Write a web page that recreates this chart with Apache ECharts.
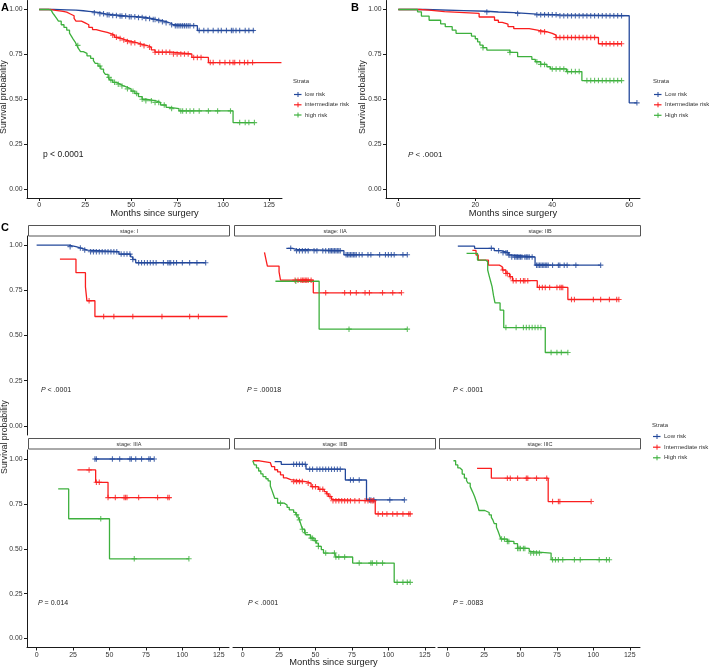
<!DOCTYPE html>
<html><head><meta charset="utf-8">
<script src="https://cdn.jsdelivr.net/npm/echarts@6/dist/echarts.min.js"></script>
<style>html,body{margin:0;padding:0;background:#fff}#c{width:709px;height:668px}</style>
</head><body><div id="c"></div>
<script>
// ---------- colours & tick labels ----------
const COL_LOW = '#23489B', COL_MID = '#FA1E1E', COL_HIGH = '#3DB03D';
const ticks125 = [0, 25, 50, 75, 100, 125];
const ticks60 = [0, 20, 40, 60];
const yTicks = [0, 0.25, 0.5, 0.75, 1];
const namesA = ['low risk', 'intermediate risk', 'high risk'];
const namesB = ['Low risk', 'Intermediate risk', 'High risk'];
const stageNames = ['stage: I', 'stage: IIA', 'stage: IIB', 'stage: IIIA', 'stage: IIIB', 'stage: IIIC'];
const pA = 'p < 0.0001';
const pB = '.0001';
const pStage = ['< .0001', '= .00018', '< .0001', '= 0.014', '< .0001', '= .0083'];

// ---------- Panel A ----------
const aLowSteps = [[0,1],[8,0.998],[15,0.996],[20,0.993],[24,0.99],[27,0.987],[30,0.982],[33,0.976],[36,0.971],[40,0.967],[44,0.963],[48,0.96],[53,0.956],[58,0.95],[61,0.944],[64,0.938],[67,0.932],[69,0.926],[71,0.915],[73,0.91],[86,0.883]];
const aLowEnd = 117;
const aLowCens = [30,33,35,37,38,40,42,44,45,47,49,50,52,54,56,58,60,62,63,65,67,69,72,74,75,76,77,78,79,80,81,82,84,87,89.5,91.8,94.6,97.3,99,101.8,104.5,105.4,107,109,112,114,116.4];
const aMidSteps = [[0,1],[6,0.995],[9,0.99],[13,0.985],[15,0.975],[17,0.965],[19,0.95],[20,0.935],[23,0.925],[25,0.915],[27,0.9],[29,0.888],[31,0.88],[34,0.872],[37,0.865],[39,0.857],[41,0.845],[43,0.838],[45,0.83],[47,0.822],[50,0.815],[53,0.806],[56,0.798],[59,0.79],[61,0.775],[63,0.762],[72,0.752],[83,0.733],[92,0.704]];
const aMidEnd = 131.7;
const aMidCens = [40,42,44,46,48,50,52,55,57,60,63,65,67,69,71,73,75,77,79,81,84,86,88,93,94.6,98.2,101,103.6,105.4,106.3,109,111.6,113.4,116];
const aHighSteps = [[0,1],[5,0.996],[6.5,0.99],[7.5,0.978],[8.5,0.965],[9.5,0.95],[10.5,0.935],[12,0.915],[13.5,0.9],[15,0.885],[16.5,0.868],[17.5,0.852],[18.5,0.835],[19.5,0.82],[20.5,0.8],[21.5,0.78],[22.5,0.765],[24,0.756],[26,0.742],[28,0.728],[29.5,0.715],[30.5,0.7],[32,0.685],[33.5,0.668],[35,0.652],[36,0.638],[37.5,0.622],[38.5,0.607],[40,0.594],[42,0.584],[44,0.574],[46,0.566],[48,0.558],[50,0.545],[52,0.532],[54,0.515],[56,0.5],[58,0.492],[63,0.482],[66,0.468],[69,0.455],[71,0.448],[76,0.435],[105.4,0.37]];
const aHighEnd = 117;
const aHighCens = [21,33,38,39,41,43,45,48,51,53,56,58,61,63,65,68,72,77,78,80,82,84,87,92,97,104,109,112,114,117];

// ---------- Panel B ----------
const bLowSteps = [[0,1],[7,0.994],[17,0.99],[23,0.986],[26,0.982],[30,0.978],[33,0.974],[36,0.97],[42,0.965],[60,0.48]];
const bLowEnd = 62;
const bLowCens = [23,31,36,37,38,39,40,41,42,43,44,45,46,47,48,49,50,51,52,53,54,55,56,57,58,62];
const bMidSteps = [[0,1],[5.5,0.996],[8,0.988],[12,0.978],[21,0.958],[25,0.94],[26,0.928],[27,0.918],[28.5,0.905],[30,0.893],[34,0.883],[36.5,0.876],[38.5,0.867],[40,0.857],[41,0.844],[52,0.809]];
const bMidEnd = 58;
const bMidCens = [37,38,41,42,43,44,45,46,47,48,49,50,51,53,54,55,56,57,58];
const bHighSteps = [[0,1],[5,0.987],[6,0.963],[8,0.94],[11,0.92],[12.2,0.904],[14,0.885],[15,0.867],[19,0.852],[20,0.837],[20.6,0.82],[21.2,0.802],[22,0.787],[23,0.774],[29,0.761],[31,0.737],[34.7,0.722],[35.6,0.709],[37,0.694],[38.6,0.681],[39.5,0.669],[43.7,0.654],[47.7,0.604]];
const bHighEnd = 58;
const bHighCens = [22,29,36,37,38,40,41,42,43,44,45,46,47,49,50,51,52,53,54,55,56,57,58];

// ---------- Panel C : stage I ----------
const c1LowSteps = [[0,1],[22,0.991],[27,0.983],[30.5,0.972],[35,0.963],[56.5,0.95],[64.5,0.935],[66,0.92],[68,0.902]];
const c1LowEnd = 116;
const c1LowCens = [23,30,33,37,39,41,43,45,47,49,51,53,55,58,60,62,64,66,70,72,74,76,78,80,82,87,90,91,92,94,96,100,105,110,116];
const c1MidSteps = [[16,0.922],[27,0.847],[33.5,0.769],[34.5,0.692],[40,0.605]];
const c1MidEnd = 131;
const c1MidCens = [36,46,53,66,86,105,111];
// stage IIA
const c2LowSteps = [[30,0.982],[34,0.976],[37,0.969],[69.5,0.946]];
const c2LowEnd = 113;
const c2LowCens = [33,37,39,41,43,45,49,51,55,57,59,60,61,62,63,64,65,66,67,71,72,73,74,75,76,77,78,80,82,86,88,94,98,100,102,104,110,113];
const c2MidSteps = [[15,0.959],[16,0.921],[17,0.884],[25,0.852],[26,0.806],[48.5,0.736]];
const c2MidEnd = 109;
const c2MidCens = [36,38,40,41,42,43,44,45,47,57,70,74,78,84,87,96,103,109];
const c2HighSteps = [[22.5,0.8],[52.5,0.535]];
const c2HighEnd = 113;
const c2HighCens = [36.5,73,113];
// stage IIB
const c3LowSteps = [[7,0.994],[18.5,0.982],[32,0.969],[36.5,0.958],[42,0.945],[43.5,0.934],[60,0.889]];
const c3LowEnd = 105;
const c3LowCens = [30,35,38,40,41,42,44,46,47,48,49,50,51,53,54,55,56,58,61,62,63,64,65,66,67,68,69,72,76,77,80,82,88,105];
const c3MidSteps = [[17,0.97],[19.5,0.945],[21,0.917],[28,0.889],[35.5,0.88],[37.5,0.862],[40,0.843],[42.5,0.825],[44.5,0.803],[61.5,0.766],[82.5,0.699]];
const c3MidEnd = 117.5;
const c3MidCens = [38,40,41,43,45,47,50,52,53,55,63,65,67,70,75,77,78,79,85,87,100,105,111,116,117.5];
const c3HighSteps = [[13,0.954],[20.5,0.917],[26,0.908],[27.5,0.862],[28.5,0.83],[29.5,0.8],[30.5,0.77],[31.5,0.72],[32.5,0.68],[36,0.64],[38.5,0.544],[67,0.406]];
const c3HighEnd = 82.5;
const c3HighCens = [40,47,52,54,56,58,60,62,64,71,75,78,82.5];
// stage IIIA
const c4LowSteps = [[40,1]];
const c4LowEnd = 80.7;
const c4LowCens = [40,41,52,57,64,65,68,72,77,78,80.7];
const c4MidSteps = [[28,0.939],[40.5,0.87],[49,0.785]];
const c4MidEnd = 91;
const c4MidCens = [36,41,43,49,54,60,61,62,70,83,90,91];
const c4HighSteps = [[14.8,0.833],[22,0.667],[50,0.444]];
const c4HighEnd = 104.5;
const c4HighCens = [44,67,104.5];
// stage IIIB
const c5LowSteps = [[22,0.985],[26.5,0.97],[43.5,0.943],[70.5,0.883],[85,0.772]];
const c5LowEnd = 111;
const c5LowCens = [35,37,39,41,43,46,48,51,53,55,57,59,61,63,65,67,74,76,80,87,88,90,101,111];
const c5MidSteps = [[7,0.99],[11.5,0.98],[19,0.97],[20,0.957],[22,0.94],[24,0.928],[26,0.912],[28,0.895],[30,0.885],[33,0.874],[43.5,0.865],[47,0.846],[52,0.831],[56,0.818],[57.5,0.806],[59,0.791],[61,0.775],[62,0.767],[91,0.694]];
const c5MidEnd = 115;
const c5MidCens = [35,37,39,41,45,48,50,53,55,58,60,62,64,66,68,70,72,74,77,80,84,86,88,89,90,93,96,99,103,106,110,114,115];
const c5HighSteps = [[7,0.99],[8,0.967],[9.5,0.95],[11,0.933],[12.5,0.917],[14,0.902],[16,0.89],[17.5,0.878],[19,0.85],[20,0.828],[21,0.805],[22,0.781],[24,0.754],[28.5,0.744],[30.5,0.73],[32,0.717],[35,0.703],[36.5,0.689],[38,0.675],[39,0.661],[40,0.635],[41,0.609],[42.5,0.59],[43.5,0.578],[46.5,0.559],[49,0.545],[50.5,0.531],[52,0.513],[54,0.495],[55.5,0.476],[63.5,0.454],[75.5,0.42],[104,0.313]];
const c5HighEnd = 115;
const c5HighCens = [26,37,39,41,43,47,48,50,52,57,63,64,66,70,80,88,89,92,96,106,110,113,115];
// stage IIIC
const c6MidSteps = [[20.2,0.948],[30,0.893],[69,0.763]];
const c6MidEnd = 98.5;
const c6MidCens = [41,43,48,54,55,61,68,72,76,77,98.5];
const c6HighSteps = [[4,0.99],[5.5,0.967],[7,0.95],[8.5,0.939],[10,0.916],[11.5,0.893],[13,0.879],[14,0.865],[15.5,0.846],[16.5,0.828],[17.5,0.81],[18.5,0.791],[19.5,0.767],[20.5,0.744],[21.5,0.713],[25.5,0.702],[28.5,0.689],[30,0.675],[31,0.661],[32,0.64],[33.5,0.62],[34.5,0.6],[35.5,0.578],[36.5,0.554],[41,0.541],[45.5,0.528],[48,0.502],[56,0.485],[57,0.476],[71,0.439]];
const c6HighEnd = 111;
const c6HighCens = [37,39,41,42,48,49,50,52,53,57,59,61,63,72,74,76,79,87,91,104,109,111];

// ---------- helpers ----------
const FONT = "'Liberation Sans', Arial, Helvetica, sans-serif";
const PLUS = 'path://M2,0h1v2h2v1h-2v2h-1v-2h-2v-1h2z';
const TXT = '#1a1a1a';
function sAt(steps, t) { let s = steps[0][1]; for (const p of steps) { if (p[0] <= t) s = p[1]; } return s; }

const grids = [], xAxes = [], yAxes = [], series = [];
function addGrid(left, top, width, height, xmin, xmax, xt, showX, showY) {
  const gi = grids.length;
  grids.push({left, top, width, height, containLabel: false});
  xAxes.push({type: 'value', gridIndex: gi, min: xmin, max: xmax, splitLine: {show: false},
    axisLine: {show: showX, onZero: false, lineStyle: {color: TXT, width: 1}},
    axisTick: {show: showX, customValues: xt, length: 3, lineStyle: {color: TXT, width: 1}},
    axisLabel: {show: showX, customValues: xt, margin: 4, fontSize: 7, color: '#333', fontFamily: FONT}});
  yAxes.push({type: 'value', gridIndex: gi, min: -0.05, max: 1.05, splitLine: {show: false},
    axisLine: {show: showY, onZero: false, lineStyle: {color: TXT, width: 1}},
    axisTick: {show: showY, customValues: yTicks, length: 3, lineStyle: {color: TXT, width: 1}},
    axisLabel: {show: showY, customValues: yTicks, margin: 4.5, fontSize: 6.8, color: '#333', fontFamily: FONT,
      formatter: v => v.toFixed(2)}});
  return gi;
}
function addCurve(gi, name, color, steps, end, cens) {
  const line = steps.map(p => [p[0], p[1]]);
  line.push([end, steps[steps.length - 1][1]]);
  series.push({type: 'line', name, xAxisIndex: gi, yAxisIndex: gi, data: line, step: 'end',
    showSymbol: false, symbol: 'none', lineStyle: {color, width: 1.3}, itemStyle: {color}, silent: true, z: 2});
  series.push({type: 'scatter', name, xAxisIndex: gi, yAxisIndex: gi, data: cens.map(t => [t, sAt(steps, t)]),
    symbol: PLUS, symbolSize: 5.5, itemStyle: {color}, silent: true, z: 3});
}

// Panel A & B
const gA = addGrid(27, 0.5, 255, 197.5, -6.6, 132, ticks125, true, true);
addCurve(gA, namesA[0], COL_LOW, aLowSteps, aLowEnd, aLowCens);
addCurve(gA, namesA[1], COL_MID, aMidSteps, aMidEnd, aMidCens);
addCurve(gA, namesA[2], COL_HIGH, aHighSteps, aHighEnd, aHighCens);
const gB = addGrid(386, 0.5, 254, 197.5, -3.2, 62.8, ticks60, true, true);
addCurve(gB, namesB[0], COL_LOW, bLowSteps, bLowEnd, bLowCens);
addCurve(gB, namesB[1], COL_MID, bMidSteps, bMidEnd, bMidCens);
addCurve(gB, namesB[2], COL_HIGH, bHighSteps, bHighEnd, bHighCens);

// Panel C facets
const colLeft = [27, 233, 438], colW = 202;
const rowTop = [236, 450], rowH = [199, 197.5];
const facets = [
  [[COL_LOW, c1LowSteps, c1LowEnd, c1LowCens, 0], [COL_MID, c1MidSteps, c1MidEnd, c1MidCens, 1]],
  [[COL_LOW, c2LowSteps, c2LowEnd, c2LowCens, 0], [COL_MID, c2MidSteps, c2MidEnd, c2MidCens, 1], [COL_HIGH, c2HighSteps, c2HighEnd, c2HighCens, 2]],
  [[COL_LOW, c3LowSteps, c3LowEnd, c3LowCens, 0], [COL_MID, c3MidSteps, c3MidEnd, c3MidCens, 1], [COL_HIGH, c3HighSteps, c3HighEnd, c3HighCens, 2]],
  [[COL_LOW, c4LowSteps, c4LowEnd, c4LowCens, 0], [COL_MID, c4MidSteps, c4MidEnd, c4MidCens, 1], [COL_HIGH, c4HighSteps, c4HighEnd, c4HighCens, 2]],
  [[COL_LOW, c5LowSteps, c5LowEnd, c5LowCens, 0], [COL_MID, c5MidSteps, c5MidEnd, c5MidCens, 1], [COL_HIGH, c5HighSteps, c5HighEnd, c5HighCens, 2]],
  [[COL_MID, c6MidSteps, c6MidEnd, c6MidCens, 1], [COL_HIGH, c6HighSteps, c6HighEnd, c6HighCens, 2]]
];
const graphics = [];
function text(x, y, str, size, opts) {
  graphics.push(Object.assign({type: 'text', x, y, silent: true, z: 10,
    style: Object.assign({text: str, fontSize: size, fontFamily: FONT, fill: TXT, align: 'left', verticalAlign: 'middle'}, (opts && opts.style) || {})},
    opts && opts.rotation ? {rotation: opts.rotation} : {}));
}
function ptext(x, y, rest, size) {
  graphics.push({type: 'text', x, y, silent: true, z: 10,
    style: {text: '{i|P} ' + rest, fontSize: size, fontFamily: FONT, fill: TXT, align: 'left', verticalAlign: 'middle',
      rich: {i: {fontStyle: 'italic', fontSize: size, fontFamily: FONT, fill: TXT}}}});
}
const pStageY = [390, 603];
const pStageX = [[41, 247, 453], [38, 248, 453]];
facets.forEach((curves, k) => {
  const r = Math.floor(k / 3), c = k % 3;
  const gi = addGrid(colLeft[c], rowTop[r], colW, rowH[r], -6.6, 132, ticks125, r === 1, c === 0);
  curves.forEach(cv => addCurve(gi, namesB[cv[4]], cv[0], cv[1], cv[2], cv[3]));
  // strip
  const sy = r === 0 ? 225.5 : 438.5;
  graphics.push({type: 'rect', silent: true, z: 10, shape: {x: colLeft[c] + 1.5, y: sy, width: colW - 1, height: 10.5},
    style: {fill: '#fff', stroke: '#555', lineWidth: 1}});
  text(colLeft[c] + 1 + colW / 2, sy + 5.5, stageNames[k], 5.5, {style: {align: 'center', fill: '#333'}});
  ptext(pStageX[r][c], pStageY[r], pStage[k], 7);
});

// panel letters
text(1, 8, 'A', 11, {style: {fontWeight: 'bold', fill: '#000'}});
text(351, 8, 'B', 11, {style: {fontWeight: 'bold', fill: '#000'}});
text(1, 228, 'C', 11, {style: {fontWeight: 'bold', fill: '#000'}});
// axis titles
text(154.5, 213, 'Months since surgery', 9.3, {style: {align: 'center'}});
text(513, 213, 'Months since surgery', 9.3, {style: {align: 'center'}});
text(333.5, 662.5, 'Months since surgery', 9.3, {style: {align: 'center'}});
text(4, 97, 'Survival probability', 8.8, {style: {align: 'center'}, rotation: Math.PI / 2});
text(363, 97, 'Survival probability', 8.8, {style: {align: 'center'}, rotation: Math.PI / 2});
text(4.5, 437, 'Survival probability', 8.8, {style: {align: 'center'}, rotation: Math.PI / 2});
// p-values
text(43, 155, pA, 8.5);
ptext(408, 155, '< ' + pB, 8);

// legends
function legend(x, ty, ys, names, colors) {
  text(x, ty, 'Strata', 6, {style: {fill: '#333'}});
  ys.forEach((y, i) => {
    graphics.push({type: 'line', silent: true, z: 10, shape: {x1: x + 1, y1: y + 0.5, x2: x + 8.5, y2: y + 0.5}, style: {stroke: colors[i], lineWidth: 1.2}});
    graphics.push({type: 'line', silent: true, z: 10, shape: {x1: x + 5, y1: y - 2, x2: x + 5, y2: y + 3}, style: {stroke: colors[i], lineWidth: 1}});
    text(x + 12, y + 0.5, names[i], 6, {style: {fill: '#333'}});
  });
}
legend(293, 81, [94, 104.3, 114.5], namesA, [COL_LOW, COL_MID, COL_HIGH]);
legend(653, 81, [94, 104.3, 114.8], namesB, [COL_LOW, COL_MID, COL_HIGH]);
legend(652, 425.7, [436, 446.7, 457.3], namesB, [COL_LOW, COL_MID, COL_HIGH]);

const chart = echarts.init(document.getElementById('c'), null, {renderer: 'canvas'});
chart.setOption({
  backgroundColor: '#fff', animation: false,
  grid: grids, xAxis: xAxes, yAxis: yAxes, series, graphic: graphics
});
</script></body></html>
